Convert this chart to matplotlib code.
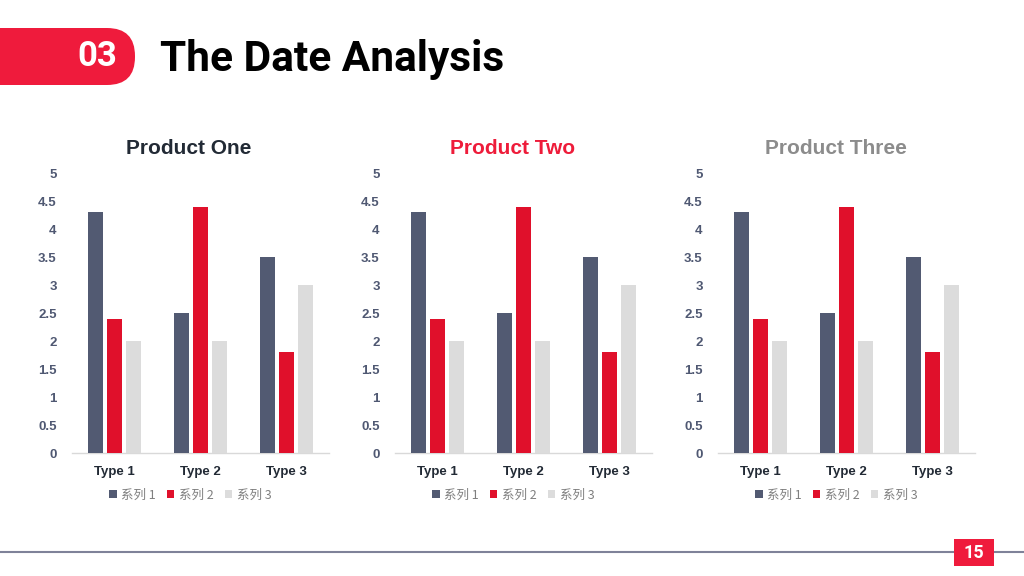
import numpy as np
import matplotlib
matplotlib.use("Agg")
from matplotlib import pyplot as plt
from matplotlib.patches import FancyBboxPatch, Rectangle

# data
categories = ["Type 1", "Type 2", "Type 3"]
series_names = ["系列 1", "系列 2", "系列 3"]
series1 = [4.3, 2.5, 3.5]
series2 = [2.4, 4.4, 1.8]
series3 = [2.0, 2.0, 3.0]
chart_titles = ["Product One", "Product Two", "Product Three"]
yticks = [0, 0.5, 1, 1.5, 2, 2.5, 3, 3.5, 4, 4.5, 5]
ytick_labels = ["0", "0.5", "1", "1.5", "2", "2.5", "3", "3.5", "4", "4.5", "5"]

series_colors = ["#525a72", "#e0102b", "#dcdcdc"]
title_colors = ["#222a35", "#ee1c3a", "#8c8c8c"]
red = "#ef1b3c"

W, H = 1024, 576
fig = plt.figure(figsize=(W / 100, H / 100), dpi=100)
fig.patch.set_facecolor("white")

# background layer in pixel coords
bg = fig.add_axes([0, 0, 1, 1], zorder=0)
bg.set_xlim(0, W)
bg.set_ylim(H, 0)
bg.axis("off")

tab = FancyBboxPatch((-60, 28), 195, 57, boxstyle="round,pad=0,rounding_size=28",
                     facecolor=red, edgecolor="none")
bg.add_patch(tab)
bg.text(97, 57, "03", color="white", fontsize=25, fontweight="bold",
        family="Roboto", ha="center", va="center")
bg.text(160, 59, "The Date Analysis", color="black", fontsize=30.5, fontweight="bold",
        family="Roboto", ha="left", va="center")

bg.plot([0, W], [552, 552], color="#7f8299", lw=1.5)
bg.add_patch(Rectangle((954, 539), 40, 27, facecolor=red, edgecolor="none", zorder=3))
bg.text(974, 553, "15", color="white", fontsize=13, fontweight="bold",
        family="Roboto", ha="center", va="center", zorder=4)

# charts
x = np.arange(len(categories))
bw = 0.175
pitch = 0.222
data = [series1, series2, series3]

lefts = [72, 395, 718]
title_x = [189, 513, 836]
ax_w, ax_top, ax_bot = 257, 173, 453

for k in range(3):
    ax = fig.add_axes([lefts[k] / W, (H - ax_bot) / H, ax_w / W, (ax_bot - ax_top) / H], zorder=2)
    ax.patch.set_alpha(0)
    for s in range(3):
        ax.bar(x + (s - 1) * pitch, data[s], width=bw, color=series_colors[s],
               label=series_names[s], zorder=3)
    ax.set_xlim(-0.5, 2.5)
    ax.set_ylim(0, 5)
    ax.set_yticks(yticks)
    ax.set_yticklabels(ytick_labels, fontsize=9.5, fontweight="bold",
                       color="#4f5872", family="Liberation Sans")
    ax.set_xticks(x)
    ax.set_xticklabels(categories, fontsize=9.5, fontweight="bold",
                       color="#222a35", family="Liberation Sans")
    ax.tick_params(axis="both", length=0)
    ax.tick_params(axis="y", pad=11)
    ax.tick_params(axis="x", pad=9)
    for sp in ["top", "right", "left"]:
        ax.spines[sp].set_visible(False)
    ax.spines["bottom"].set_color("#d9d9d9")
    ax.spines["bottom"].set_linewidth(1)

    leg = ax.legend(loc="center", bbox_to_anchor=(0.46, -0.15), ncol=3, frameon=False,
                    handlelength=0.6, handleheight=0.6, handletextpad=0.35,
                    columnspacing=0.9, prop={"family": ["Noto Sans CJK SC", "DejaVu Sans"], "size": 9})
    for t in leg.get_texts():
        t.set_color("#7f7f7f")

    bg.text(title_x[k], 149, chart_titles[k], color=title_colors[k], fontsize=15,
            fontweight="bold", family="Liberation Sans", ha="center", va="center")

fig.savefig("out.png", dpi=100, facecolor="white")
